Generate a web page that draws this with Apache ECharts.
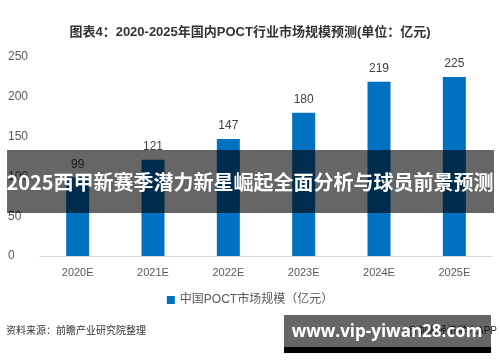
<!DOCTYPE html>
<html><head><meta charset="utf-8">
<script src="https://cdn.jsdelivr.net/npm/echarts@6/dist/echarts.min.js"></script>
<style>html,body{margin:0;padding:0;background:#fff}#c{width:500px;height:362px}</style>
</head><body><div id="c"></div>
<script>
const categories = ['2020E','2021E','2022E','2023E','2024E','2025E'];
const marketSize = [99,121,147,180,219,225];
const yTicks = [0,50,100,150,200,250];
const seriesName = '中国POCT市场规模（亿元）';
const titleText = '图表4：2020-2025年国内POCT行业市场规模预测(单位：亿元)';
const bannerText = '2025西甲新赛季潜力新星崛起全面分析与球员前景预测';
const sourceText = '资料来源：前瞻产业研究院整理';
const creditText = '@前瞻经济学人APP';
const siteText = 'www.vip-yiwan28.com';

const FF = '"Liberation Sans", "Noto Sans CJK SC", sans-serif';
const chart = echarts.init(document.getElementById('c'));
chart.setOption({
  animation: false,
  textStyle: {fontFamily: FF},
  title: {text: titleText, left: 'center', top: 21,
    textStyle: {fontSize: 13, fontWeight: 'bold', color: '#333', fontFamily: FF}},
  grid: {left: 40, right: 8, top: 57, bottom: 106},
  xAxis: {type: 'category', data: categories,
    axisLine: {lineStyle: {color: '#d9d9d9'}}, axisTick: {show: false},
    axisLabel: {color: '#595959', fontSize: 11, margin: 11}},
  yAxis: {type: 'value', min: yTicks[0], max: yTicks[yTicks.length-1], interval: 50,
    splitLine: {show: false}, axisLine: {show: false}, axisTick: {show: false},
    axisLabel: {color: '#595959', fontSize: 12, align: 'left', margin: 32}},
  legend: {data: [seriesName], top: 289, left: 'center', itemWidth: 8, itemHeight: 8, icon: 'rect',
    textStyle: {color: '#595959', fontSize: 12}},
  series: [{name: seriesName, type: 'bar', data: marketSize, barWidth: 23,
    itemStyle: {color: '#0070C0'},
    label: {show: true, position: 'top', color: '#404040', fontSize: 12, distance: 7}}],
  graphic: [
    {type: 'text', left: 6, top: 326, z: 50, style: {text: sourceText, fontSize: 10, fill: '#333', fontFamily: FF}},
    {type: 'text', right: 3, top: 326, z: 50, style: {text: creditText, fontSize: 10, fill: '#333', fontFamily: FF}},
    {type: 'rect', shape: {x: 7, y: 150, width: 487, height: 63}, z: 100, style: {fill: 'rgba(0,0,0,0.6)'}},
    {type: 'text', x: 250, y: 182, z: 101, style: {text: bannerText, fontSize: 20, fontWeight: 'bold', fill: '#fff', align: 'center', verticalAlign: 'middle', fontFamily: '"Noto Sans CJK SC", sans-serif'}},
    {type: 'rect', shape: {x: 284, y: 315, width: 207, height: 38}, z: 100, style: {fill: 'rgba(0,0,0,0.6)'}},
    {type: 'rect', shape: {x: 284, y: 347, width: 207, height: 6}, z: 100, style: {fill: '#000'}},
    {type: 'text', x: 387, y: 332, z: 101, style: {text: siteText, fontSize: 17, fontWeight: 'bold', fill: '#fff', align: 'center', verticalAlign: 'middle', fontFamily: '"Open Sans", sans-serif'}}
  ]
});
</script></body></html>
